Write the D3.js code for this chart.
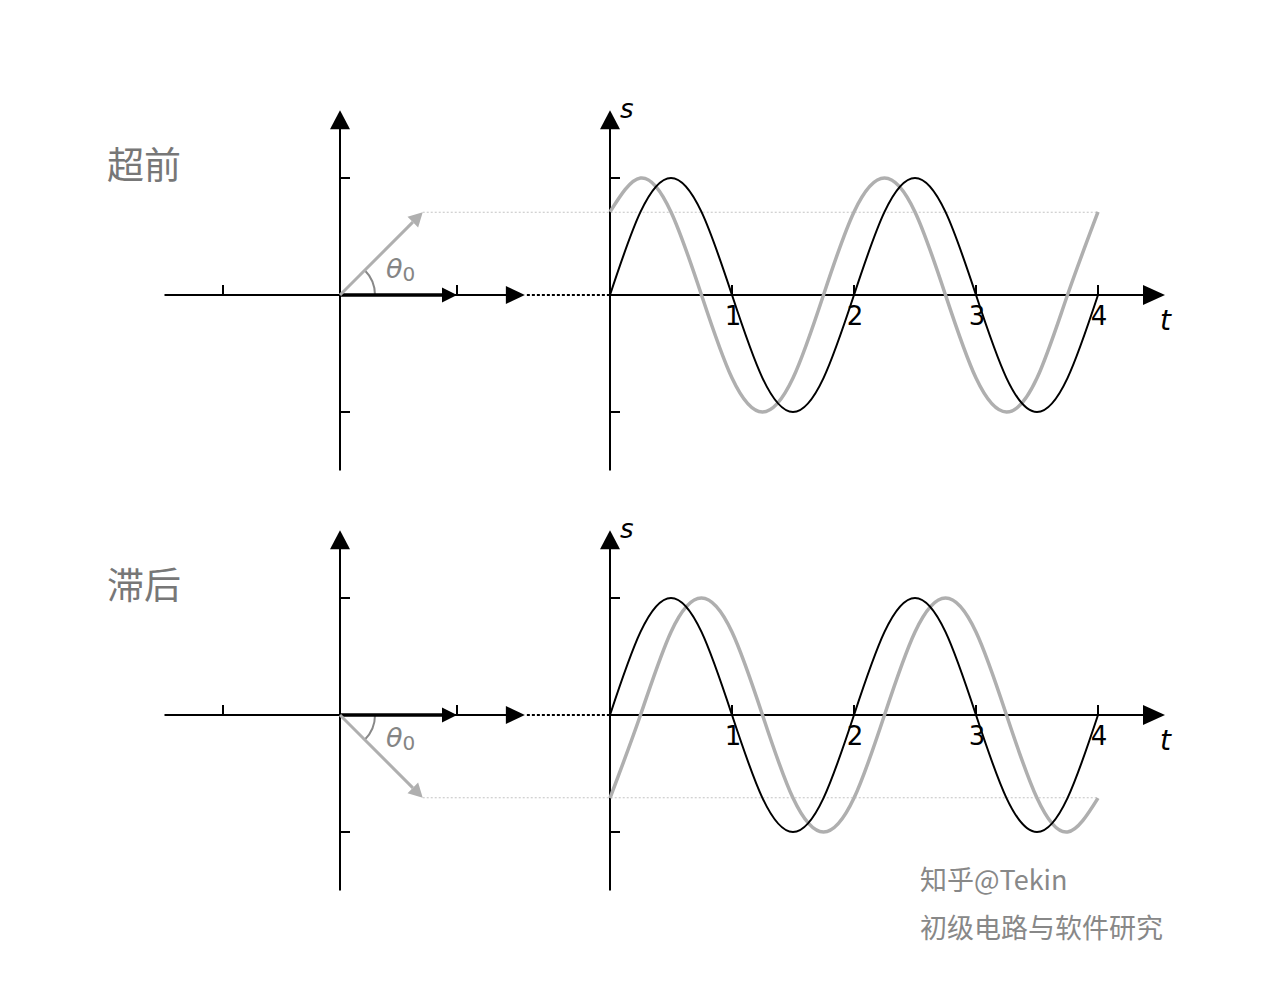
<!DOCTYPE html>
<html>
<head>
<meta charset="utf-8">
<script src="https://cdn.jsdelivr.net/npm/d3@7"></script>
<style>
  body { margin: 0; background: #fff; }
  svg { display: block; }
</style>
</head>
<body>
<svg width="1280" height="1000"></svg>
<script>
// values
let tSamples   = [0, 0.25, 0.5, 0.75, 1, 1.25, 1.5, 1.75, 2, 2.25, 2.5, 2.75, 3, 3.25, 3.5, 3.75, 4];
let refWave    = [0, 0.71, 1, 0.71, 0, -0.71, -1, -0.71, 0, 0.71, 1, 0.71, 0, -0.71, -1, -0.71, 0];
let leadWave   = [0.71, 1, 0.71, 0, -0.71, -1, -0.71, 0, 0.71, 1, 0.71, 0, -0.71, -1, -0.71, 0, 0.71];
let lagWave    = [-0.71, 0, 0.71, 1, 0.71, 0, -0.71, -1, -0.71, 0, 0.71, 1, 0.71, 0, -0.71, -1, -0.71];
let tTicks     = [1, 2, 3, 4];
let sTicks     = [-1, 1];
let phasorTicks = [-1, 1];
let panelTitles = ["超前", "滞后"];
let phaseAngles = [45, -45];   // degrees, theta0
let credits    = ["知乎@Tekin", "初级电路与软件研究"];

let UNIT = 117,
    PH_X0 = 340,
    T_X0 = 610,
    PANEL_Y = [295, 715];

let svg = d3.select("svg");

let GREY = "#afafaf",
    TEXT_GREY = "#858585";

function tri(g, x, y, dir, len, half, color) {
    // dir: "right" or "up"
    let pts;
    if (dir === "right") pts = [[x, y], [x - len, y - half], [x - len, y + half]];
    else pts = [[x, y], [x - half, y + len], [x + half, y + len]];
    g.append("path").attr("d", d3.line()(pts) + "Z").attr("fill", color);
}

function drawPanel(i) {
    let y0 = PANEL_Y[i];
    let wave = i === 0 ? leadWave : lagWave;
    let ang = phaseAngles[i];

    let g = svg.append("g");

    let px = d3.scaleLinear().domain([0, 1]).range([PH_X0, PH_X0 + UNIT]);
    let py = d3.scaleLinear().domain([0, 1]).range([y0, y0 - UNIT]);
    let tx = d3.scaleLinear().domain([0, 4]).range([T_X0, 1098]);

    // title
    g.append("text").attr("x", 107).attr("y", y0 - 116)
        .attr("font-family", "Noto Sans CJK SC").attr("font-size", 37)
        .attr("fill", "#777").text(panelTitles[i]);

    // phasor axes
    g.append("line").attr("x1", px(-1.5)).attr("x2", px(1.5)).attr("y1", y0).attr("y2", y0)
        .attr("stroke", "#000").attr("stroke-width", 2);
    tri(g, px(1.58), y0, "right", 19, 9, "#000");
    g.append("line").attr("x1", PH_X0).attr("x2", PH_X0).attr("y1", py(-1.5)).attr("y2", py(1.5))
        .attr("stroke", "#000").attr("stroke-width", 2);
    tri(g, PH_X0, py(1.58), "up", 19, 10, "#000");

    phasorTicks.forEach(v => {
        g.append("line").attr("x1", px(v)).attr("x2", px(v)).attr("y1", y0).attr("y2", y0 - 10)
            .attr("stroke", "#000").attr("stroke-width", 2);
        g.append("line").attr("x1", PH_X0).attr("x2", PH_X0 + 10).attr("y1", py(v)).attr("y2", py(v))
            .attr("stroke", "#000").attr("stroke-width", 2);
    });

    // dotted link between panels
    g.append("line").attr("x1", px(1.58) + 2).attr("x2", T_X0).attr("y1", y0).attr("y2", y0)
        .attr("stroke", "#000").attr("stroke-width", 2).attr("stroke-dasharray", "3,2");

    // phase angle arc
    let arc = d3.arc().innerRadius(35).outerRadius(35)
        .startAngle(Math.PI / 2).endAngle(Math.PI / 2 - ang * Math.PI / 180);
    g.append("path").attr("d", arc()).attr("transform", `translate(${PH_X0},${y0})`)
        .attr("stroke", "#888").attr("stroke-width", 2).attr("fill", "none");

    // theta0 label
    let lab = g.append("text").attr("x", 386).attr("y", ang > 0 ? y0 - 17 : y0 + 32)
        .attr("font-family", "DejaVu Sans").attr("font-style", "italic")
        .attr("font-size", 27).attr("fill", TEXT_GREY);
    lab.append("tspan").text("θ");
    lab.append("tspan").attr("font-size", 20).attr("font-style", "normal").attr("dy", 3).text("0");

    // phasor tips
    let rad = ang * Math.PI / 180;
    let gx = px(Math.cos(rad)), gy = py(Math.sin(rad));

    // grey dotted projection
    g.append("line").attr("x1", gx).attr("x2", tx(4)).attr("y1", gy).attr("y2", gy)
        .attr("stroke", "#c4c4c4").attr("stroke-width", 1.2).attr("stroke-dasharray", "2,2");

    // black reference phasor
    g.append("line").attr("x1", PH_X0).attr("x2", px(1) - 12).attr("y1", y0).attr("y2", y0)
        .attr("stroke", "#000").attr("stroke-width", 3.5);
    tri(g, px(1), y0, "right", 15, 7.5, "#000");

    // grey phasor
    let hx = gx - 14 * Math.cos(rad), hy = gy + 14 * Math.sin(rad);
    g.append("line").attr("x1", PH_X0).attr("y1", y0).attr("x2", hx).attr("y2", hy)
        .attr("stroke", GREY).attr("stroke-width", 3);
    let nx = Math.sin(rad) * 7.5, ny = Math.cos(rad) * 7.5;
    g.append("path")
        .attr("d", d3.line()([[gx, gy], [hx - nx, hy - ny], [hx + nx, hy + ny]]) + "Z")
        .attr("fill", GREY);

    // time plot axes
    g.append("line").attr("x1", T_X0).attr("x2", 1150).attr("y1", y0).attr("y2", y0)
        .attr("stroke", "#000").attr("stroke-width", 2);
    tri(g, 1165, y0, "right", 22, 10, "#000");
    g.append("line").attr("x1", T_X0).attr("x2", T_X0).attr("y1", py(-1.5)).attr("y2", py(1.5))
        .attr("stroke", "#000").attr("stroke-width", 2);
    tri(g, T_X0, py(1.58), "up", 19, 10, "#000");

    sTicks.forEach(v => {
        g.append("line").attr("x1", T_X0).attr("x2", T_X0 + 10).attr("y1", py(v)).attr("y2", py(v))
            .attr("stroke", "#000").attr("stroke-width", 2);
    });
    tTicks.forEach(v => {
        g.append("line").attr("x1", tx(v)).attr("x2", tx(v)).attr("y1", y0).attr("y2", y0 - 10)
            .attr("stroke", "#000").attr("stroke-width", 2);
        g.append("text").attr("x", tx(v) + 1).attr("y", y0 + 30).attr("text-anchor", "middle")
            .attr("font-family", "DejaVu Sans").attr("font-size", 26).attr("fill", "#000").text(v);
    });

    g.append("text").attr("x", 620).attr("y", y0 - 177)
        .attr("font-family", "DejaVu Sans").attr("font-style", "italic").attr("font-size", 26)
        .text("s");
    g.append("text").attr("x", 1160).attr("y", y0 + 35)
        .attr("font-family", "DejaVu Sans").attr("font-style", "italic").attr("font-size", 28)
        .text("t");

    let line = d3.line().curve(d3.curveNatural)
        .x((d, k) => tx(tSamples[k]))
        .y(d => py(d));

    g.append("path").attr("d", line(wave)).attr("fill", "none")
        .attr("stroke", GREY).attr("stroke-width", 3.5);
    g.append("path").attr("d", line(refWave)).attr("fill", "none")
        .attr("stroke", "#000").attr("stroke-width", 2);
}

drawPanel(0);
drawPanel(1);

svg.selectAll(".credit").data(credits).enter().append("text")
    .attr("class", "credit")
    .attr("x", 920).attr("y", (d, k) => 890 + k * 48)
    .attr("font-family", "Noto Sans CJK SC").attr("font-size", 27)
    .attr("fill", "#888").text(d => d);
</script>
</body>
</html>
